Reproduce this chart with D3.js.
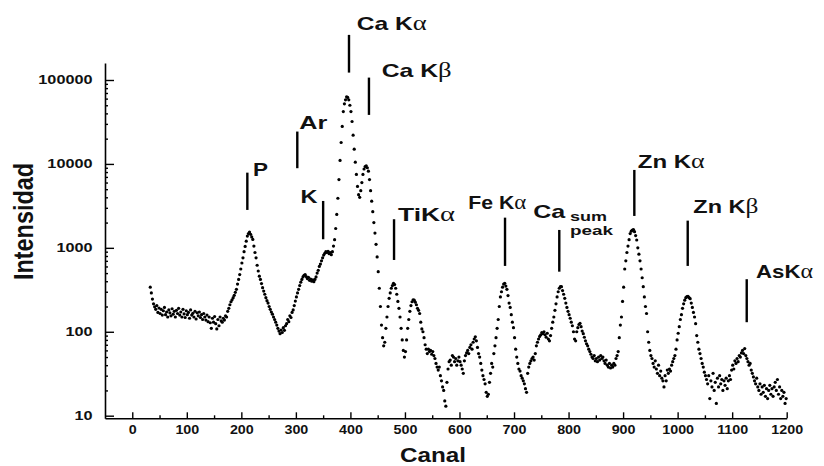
<!DOCTYPE html>
<html><head><meta charset="utf-8">
<script src="https://cdn.jsdelivr.net/npm/d3@7"></script>
<style>html,body{margin:0;padding:0;background:#fff;} svg{display:block;}</style>
</head><body>
<svg id="chart" width="824" height="466"></svg>
<script>
// ---------- DATA (counts every 2 channels) ----------
const channelStep = 2;
const countsA = [340,290,245,215,198,185,205,170,192,165,185,158,178,195,160,172,150,182,168,155,188,162,175,150,180]; // ch 33..81
const countsB = [165,190,158,172,150,185,163,148,178,160,170,145,182,158,166,150,175,142,168,155,172,148,160,140,165]; // ch 83..131
const countsC = [150,138,158,132,150,128,110,145,130,152,125,108,140,118,150,135,130,145,138,155,150,175,190,210,228]; // ch 133..181
const countsD = [240,255,272,295,320,370,420,480,560,660,760,900,1040,1200,1380,1480,1540,1450,1350,1260,1050,880,760,620,530]; // ch 183..231
const countsE = [460,420,375,335,305,280,255,235,220,200,185,172,162,150,140,130,120,110,102,95,105,98,112,104,118]; // ch 233..281
const countsF = [125,140,132,155,148,170,182,205,232,260,290,320,355,390,420,450,470,480,455,430,445,410,425,400,415]; // ch 283..331
const countsG = [395,420,450,500,540,600,640,700,760,820,860,900,880,910,850,880,830,900,1050,1250,1700,2500,3900,6500,11000]; // ch 333..381
const countsH = [18000,28000,42000,52000,58000,63000,62000,58000,50000,42000,32000,22000,15000,10500,7500,5400,4300,4000,4800,6000,7500,8700,9300,9500,9000]; // ch 383..431
const countsI = [8200,6500,4800,3600,2700,2000,1500,1100,780,520,330,200,120,85,68,75,110,150,200,250,290,330,355,378,365]; // ch 433..481
const countsJ = [330,280,230,190,150,110,80,60,50,58,80,110,140,175,205,228,240,238,225,210,190,180,165,130,108]; // ch 483..531
const countsK = [100,85,70,62,55,62,58,60,54,58,52,48,42,38,35,38,30,26,22,20,15,13,25,36,44]; // ch 533..581
const countsL = [46,40,52,50,44,48,40,45,50,44,40,36,32,45,52,56,60,55,65,70,62,75,82,87,78]; // ch 583..631
const countsM = [65,55,50,42,35,30,27,24,19,17,18,25,32,42,38,55,68,85,110,140,200,260,300,340,370]; // ch 633..681
const countsN = [378,350,320,270,220,195,160,130,112,85,62,50,42,36,34,30,28,26,24,21,19,32,38,42,45]; // ch 683..731
const countsO = [48,50,46,55,68,75,82,88,92,98,95,100,92,86,96,82,78,90,110,130,150,180,215,260,300]; // ch 733..781
const countsP = [330,345,345,310,280,250,220,195,175,160,145,130,118,100,82,78,100,112,122,126,115,102,95,86,78]; // ch 783..831
const countsQ = [72,68,62,58,54,50,48,52,45,48,44,50,46,52,48,50,45,42,46,40,38,42,37,40,38]; // ch 833..881
const countsR = [42,40,48,52,58,85,120,150,230,340,560,700,880,1050,1250,1480,1580,1630,1650,1560,1400,1240,1000,840,700]; // ch 883..931
const countsS = [560,440,345,260,200,165,100,75,60,52,48,42,38,45,36,32,40,30,34,28,26,22,30,26,35]; // ch 933..981
const countsT = [32,36,34,40,44,48,52,62,80,96,115,140,160,190,215,238,255,262,265,255,248,220,195,170,150]; // ch 983..1031
const countsU = [125,90,75,62,55,48,42,38,33,30,27,24,30,16,26,22,32,20,25,14,28,22,30,24,27]; // ch 1033..1081
const countsV = [20,26,23,28,21,26,30,27,35,40,36,45,42,48,44,52,50,56,60,55,63,52,48,44,40]; // ch 1083..1131
const countsW = [42,35,32,29,26,24,28,22,20,24,18,22,19,23,17,21,16,20,23,18,21,17,22,25,20,27,18,22,16,20,17,19,14,16]; // ch 1133..1199
const segments = [[33,countsA],[83,countsB],[133,countsC],[183,countsD],[233,countsE],[283,countsF],[333,countsG],
  [383,countsH],[433,countsI],[483,countsJ],[533,countsK],[583,countsL],[633,countsM],[683,countsN],[733,countsO],
  [783,countsP],[833,countsQ],[883,countsR],[933,countsS],[983,countsT],[1033,countsU],[1083,countsV],[1133,countsW]];

const xTicks = [0,100,200,300,400,500,600,700,800,900,1000,1100,1200];
const xMinorTicks = [50,150,250,350,450,550,650,750,850,950,1050,1150];
const yTicks = [10,100,1000,10000,100000];

const peakNames = ["P","Ar","K","Ca Kα","Ca Kβ","TiKα","Fe Kα","Ca","Zn Kα","Zn Kβ","AsKα"];
const peakChannel = [211,302.6,350,397.4,434,480,683.5,783,920.6,1018.5,1126.7];
const markerTop = [7870,24300,3620,344800,106800,2193,2290,1634,8480,2110,423];
const markerBottom = [2830,8890,1266,122500,38370,717,609,520,2400,609,130];
const sumPeakSub = ["sum","peak"];

// ---------- LAYOUT ----------
const labelLayout = [
  {dx:5.7, dy:3.8, w:15},{dx:2, dy:-2.4, w:28},{dx:-22.6, dy:2.3, w:17},
  {dx:7.7, dy:-5, w:70},{dx:12.7, dy:-1, w:70},{dx:4, dy:1.7, w:57},
  {dx:-36.7, dy:-8.4, w:58},{dx:-26, dy:-11.7, w:32},{dx:3.4, dy:-1.7, w:67},
  {dx:5.6, dy:-7.4, w:65},{dx:9.3, dy:-1, w:57}
];
const subLayout = [{dx:10.7, dy:-8.5, w:37},{dx:10.7, dy:5, w:43}];
const SANS = "'Liberation Sans', Arial, Helvetica, sans-serif";
const SERIF = "'Liberation Serif', 'Times New Roman', serif";

const svg = d3.select("#chart");
const x = d3.scaleLinear().domain([-50,1200]).range([105,786.7]);
const y = d3.scaleLog().domain([9.31,159400]).range([418.3,63]);

// ---------- AXES ----------
const gx = svg.append("g").attr("transform",`translate(0,${y.range()[0]})`)
  .call(d3.axisBottom(x).tickValues(xTicks).tickSizeInner(-6).tickSizeOuter(0).tickPadding(6).tickFormat(d3.format("d")));
const gxm = svg.append("g").attr("transform",`translate(0,${y.range()[0]})`)
  .call(d3.axisBottom(x).tickValues(xMinorTicks).tickSizeInner(-3).tickSizeOuter(0).tickFormat(""));
gxm.select(".domain").remove();

const gy = svg.append("g").attr("transform",`translate(${x.range()[0]},0)`)
  .call(d3.axisLeft(y).tickValues(yTicks).tickSizeInner(-9).tickSizeOuter(0).tickPadding(12.5).tickFormat(d3.format("d")));
const yMinor = [];
[10,100,1000,10000].forEach(d=>{for(let k=2;k<=9;k++) yMinor.push(k*d);});
const gym = svg.append("g").attr("transform",`translate(${x.range()[0]},0)`)
  .call(d3.axisLeft(y).tickValues(yMinor).tickSizeInner(-3).tickSizeOuter(0).tickFormat(""));
gym.select(".domain").remove();

svg.selectAll(".domain").attr("stroke","#000").attr("stroke-width",1.6);
svg.selectAll(".tick line").attr("stroke","#000").attr("stroke-width",1.4);
gx.selectAll("text").attr("font-family",SANS).attr("font-size",13).attr("font-weight","bold")
  .attr("fill","#111").attr("transform","scale(1.1,1)");
gy.selectAll("text").attr("font-family",SANS).attr("font-size",12.5).attr("font-weight","bold")
  .attr("fill","#111").attr("x",-12.5/1.3).attr("transform","scale(1.3,1)");

// axis titles
svg.append("text").text("Intensidad").attr("font-family",SANS).attr("font-weight","bold")
  .attr("font-size",28).attr("text-anchor","middle").attr("textLength",117).attr("lengthAdjust","spacingAndGlyphs")
  .attr("transform","translate(33,221.5) rotate(-90)").attr("fill","#111");
svg.append("text").text("Canal").attr("font-family",SANS).attr("font-weight","bold")
  .attr("font-size",21).attr("text-anchor","middle").attr("textLength",66).attr("lengthAdjust","spacingAndGlyphs")
  .attr("x",433).attr("y",462).attr("fill","#111");

// ---------- DATA POINTS ----------
const points = [];
segments.forEach(([start, vals]) => vals.forEach((v,i) => points.push({c:start+i*channelStep, v})));
svg.append("g").selectAll("circle").data(points).join("circle")
  .attr("cx",d=>x(d.c)).attr("cy",d=>y(d.v)).attr("r",1.6).attr("fill","#000");

// ---------- PEAK MARKERS ----------
const marks = svg.append("g");
peakNames.forEach((name,i)=>{
  const px = x(peakChannel[i]), yt = y(markerTop[i]), yb = y(markerBottom[i]);
  marks.append("line").attr("x1",px).attr("x2",px).attr("y1",yt).attr("y2",yb)
    .attr("stroke","#000").attr("stroke-width",2.4);
  const L = labelLayout[i];
  const t = marks.append("text").attr("x",px+L.dx).attr("y",yt+L.dy)
    .attr("font-family",SANS).attr("font-weight","bold").attr("font-size",18.5).attr("fill","#111")
    .attr("textLength",L.w).attr("lengthAdjust","spacingAndGlyphs");
  const last = name.slice(-1);
  if (last === "α" || last === "β") {
    t.append("tspan").text(name.slice(0,-1));
    t.append("tspan").text(last).attr("font-family",SERIF).attr("font-weight","normal").attr("font-size",20);
  } else t.text(name);
  if (name === "Ca" && i === 7) {
    sumPeakSub.forEach((s,j)=>{
      const S = subLayout[j];
      marks.append("text").text(s).attr("x",px+S.dx).attr("y",yt+S.dy)
        .attr("font-family",SANS).attr("font-weight","bold").attr("font-size",12).attr("fill","#111")
        .attr("textLength",S.w).attr("lengthAdjust","spacingAndGlyphs");
    });
  }
});
</script>
</body></html>
